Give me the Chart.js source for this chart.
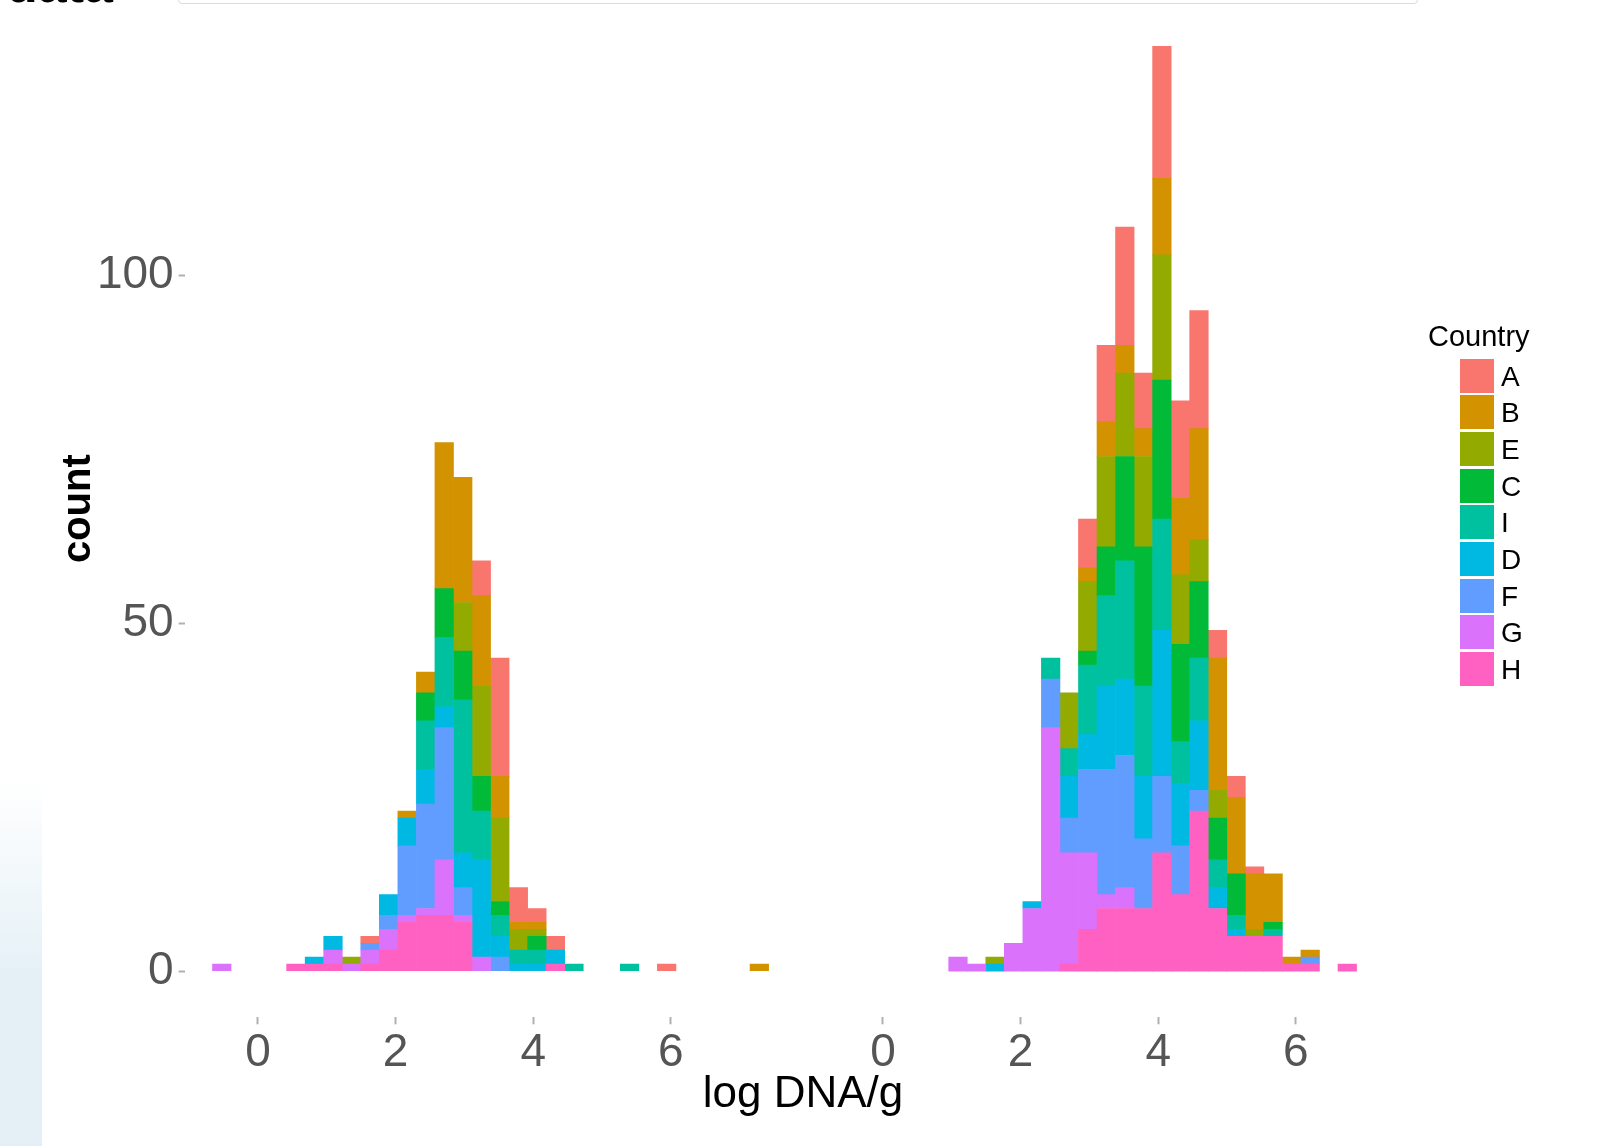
<!DOCTYPE html>
<html>
<head>
<meta charset="utf-8">
<script src="https://cdn.jsdelivr.net/npm/chart.js@4.4.1/dist/chart.umd.min.js"></script>
<style>
  html, body { margin:0; padding:0; background:#fff; }
  body { width:1599px; height:1146px; overflow:hidden; position:relative; font-family:"Liberation Sans", Arial, sans-serif; }
  canvas { position:absolute; top:0; }
  #cL { left:0; }
  #cR { left:800px; }
  #xtitle { position:absolute; left:603px; width:400px; top:1070px; text-align:center; font-size:44px; line-height:44px; color:#000; }
  #legTitle { position:absolute; left:1428px; top:322px; font-size:29px; line-height:29px; color:#000; }
  .row { position:absolute; left:1460px; height:35px; }
  .key { position:absolute; left:0; top:0; width:34px; height:34px; }
  .lab { position:absolute; left:41px; top:0; font-size:28px; line-height:35px; color:#000; }
  #topbox { position:absolute; left:178px; top:-40px; width:1238px; height:42px; border:1px solid #dcdcdc; border-radius:4px; }
  #toptxt { position:absolute; left:6px; top:-42px; font-size:52px; font-weight:bold; color:#000; line-height:52px; }
  #strip { position:absolute; left:0; top:780px; width:42px; height:366px; background:linear-gradient(to bottom, rgba(228,240,246,0), rgba(228,240,246,1) 55%); }
</style>
</head>
<body>
<div id="toptxt">data</div>
<div id="topbox"></div>
<div id="strip"></div>
<canvas id="cL" width="800" height="1146"></canvas>
<canvas id="cR" width="799" height="1146"></canvas>
<div id="xtitle">log DNA/g</div>
<div id="legTitle">Country</div>
<div id="legend"></div>
<script>
// ---- data ----
const binCenters = [-0.5263,-0.2569,0.0125,0.2819,0.5513,0.8207,1.0901,1.3595,1.6289,1.8983,
  2.1677,2.4371,2.7065,2.9759,3.2453,3.5147,3.7841,4.0535,4.3229,4.5923,
  4.8617,5.1311,5.4005,5.6699,5.9393,6.2087,6.4781,6.7475,7.0169,7.2863];
const xTicks = [0, 2, 4, 6];
const yTicks = [0, 50, 100];
const countries = ['A','B','E','C','I','D','F','G','H'];
const colors = ['#F8766D','#D39200','#93AA00','#00BA38','#00C19F','#00B9E3','#619CFF','#DB72FB','#FF61C3'];

// left panel
const leftA = [0,0,0,0,0,0,0,0,1,0,0,0,0,0,5,17,5,2,2,0,0,0,0,0,1,0,0,0,0,0];
const leftB = [0,0,0,0,0,0,0,0,0,0,1,3,21,18,13,6,1,1,0,0,0,0,0,0,0,0,0,0,0,1];
const leftE = [0,0,0,0,0,0,0,1,0,0,0,0,0,7,13,12,3,1,0,0,0,0,0,0,0,0,0,0,0,0];
const leftC = [0,0,0,0,0,0,0,0,0,0,0,4,7,7,5,2,0,2,0,0,0,0,0,0,0,0,0,0,0,0];
const leftI = [0,0,0,0,0,0,0,0,0,0,0,7,10,22,7,3,2,2,0,1,0,0,1,0,0,0,0,0,0,0];
const leftD = [0,0,0,0,0,1,2,0,0,3,4,5,3,5,14,3,1,1,2,0,0,0,0,0,0,0,0,0,0,0];
const leftF = [0,0,0,0,0,0,0,0,1,2,10,15,19,4,0,2,0,0,0,0,0,0,0,0,0,0,0,0,0,0];
const leftG = [1,0,0,0,0,0,2,1,2,3,1,1,8,1,2,0,0,0,0,0,0,0,0,0,0,0,0,0,0,0];
const leftH = [0,0,0,0,1,1,1,0,1,3,7,8,8,7,0,0,0,0,1,0,0,0,0,0,0,0,0,0,0,0];

// right panel
const rightA = [0,0,0,0,0,0,0,0,0,0,0,0,0,7,11,17,8,19,14,17,4,3,1,0,0,0,0,0,0,0];
const rightB = [0,0,0,0,0,0,0,0,0,0,0,0,0,2,5,4,4,11,11,16,19,11,8,7,1,1,0,0,0,0];
const rightE = [0,0,0,0,0,0,0,0,1,0,0,0,8,10,13,12,13,18,10,6,4,0,1,0,0,0,0,0,0,0];
const rightC = [0,0,0,0,0,0,0,0,0,0,0,0,0,2,7,15,20,20,14,11,6,6,0,1,0,0,0,0,0,0];
const rightI = [0,0,0,0,0,0,0,0,0,0,0,3,4,10,13,17,13,16,6,9,4,2,0,1,0,0,0,0,0,0];
const rightD = [0,0,0,0,0,0,0,0,1,0,1,0,6,5,12,11,9,21,9,10,3,1,0,0,0,0,0,0,0,0];
const rightF = [0,0,0,0,0,0,0,0,0,0,0,7,5,12,18,19,10,11,7,3,0,0,0,0,0,1,0,0,0,0];
const rightG = [0,0,0,0,0,0,2,1,0,4,9,35,16,11,2,3,0,0,0,0,0,0,0,0,0,0,0,0,0,0];
const rightH = [0,0,0,0,0,0,0,0,0,0,0,0,1,6,9,9,9,17,11,23,9,5,5,5,1,1,0,1,0,0];

const leftSeries  = [leftA, leftB, leftE, leftC, leftI, leftD, leftF, leftG, leftH];
const rightSeries = [rightA, rightB, rightE, rightC, rightI, rightD, rightF, rightG, rightH];

// ---- chart ----
Chart.defaults.font.family = "'Liberation Sans', Arial, sans-serif";

function makeDatasets(series) {
  const ds = [];
  for (let k = countries.length - 1; k >= 0; k--) {   // first level on top of stack
    ds.push({
      label: countries[k],
      data: binCenters.map((x, i) => ({ x: x, y: series[k][i] === 0 ? null : series[k][i] })),
      backgroundColor: colors[k],
      borderWidth: 0,
      barPercentage: 1,
      categoryPercentage: 1
    });
  }
  return ds;
}

const tickFont = { size: 46 };
function xScale() {
  return {
    type: 'linear', min: -1.065, max: 7.825, stacked: true, offset: false,
    afterBuildTicks: s => { s.ticks = xTicks.map(v => ({ value: v })); },
    afterFit: s => { s.height = 128.7; s.paddingLeft = 0; s.paddingRight = 0; },
    grid: { display: true, offset: false, drawOnChartArea: false, drawTicks: true, tickLength: 7, tickColor: '#b0b0b0', tickWidth: 2 },
    border: { display: false },
    ticks: { autoSkip: false, maxRotation: 0, padding: 1, color: '#555', font: tickFont, callback: v => String(v) }
  };
}
function yScale(show) {
  return {
    type: 'linear', min: -6.65, max: 139.65, stacked: true, display: show,
    afterBuildTicks: s => { s.ticks = yTicks.map(v => ({ value: v })); },
    afterFit: s => { s.width = show ? 184.7 : 0; s.paddingTop = 0; s.paddingBottom = 0; },
    grid: { display: true, drawOnChartArea: false, drawTicks: true, tickLength: 6, tickColor: '#b0b0b0', tickWidth: 2 },
    border: { display: false },
    ticks: { padding: 5, color: '#555', font: tickFont, callback: v => String(v) },
    title: { display: show, text: 'count', color: '#000', font: { size: 40, weight: 'bold' }, padding: { top: 55, bottom: 0 } }
  };
}
function makeChart(id, series, showY, pad) {
  return new Chart(document.getElementById(id), {
    type: 'bar',
    data: { datasets: makeDatasets(series) },
    options: {
      responsive: false, devicePixelRatio: 1, animation: false,
      layout: { padding: pad },
      plugins: { legend: { display: false }, tooltip: { enabled: false } },
      scales: { x: xScale(), y: yScale(showY) }
    }
  });
}
makeChart('cL', leftSeries, true, { left: 0, right: 3.6, top: 0, bottom: 0 });
makeChart('cR', rightSeries, false, { left: 9.7, right: 177.6, top: 0, bottom: 0 });

// ---- legend ----
const leg = document.getElementById('legend');
countries.forEach((c, i) => {
  const row = document.createElement('div');
  row.className = 'row';
  row.style.top = (358.5 + i * 36.7) + 'px';
  row.innerHTML = '<div class="key" style="background:' + colors[i] + '"></div><div class="lab">' + c + '</div>';
  leg.appendChild(row);
});
</script>
</body>
</html>
